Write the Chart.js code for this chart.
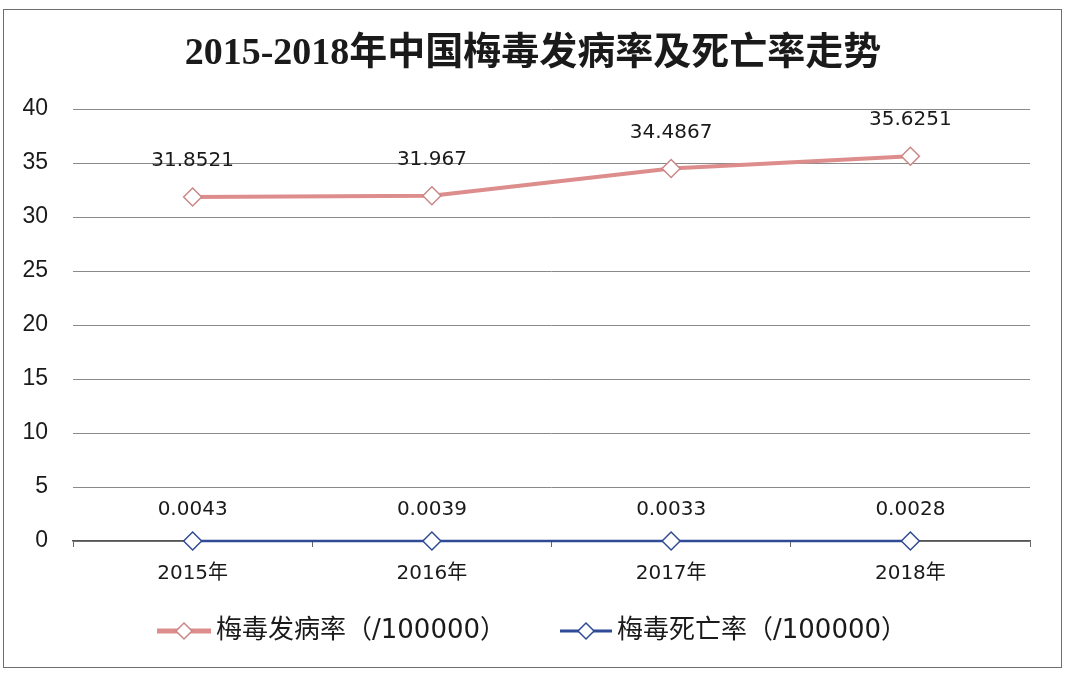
<!DOCTYPE html>
<html>
<head>
<meta charset="utf-8">
<script src="https://cdn.jsdelivr.net/npm/chart.js@4.4.1/dist/chart.umd.min.js"></script>
<style>
  html, body { margin: 0; padding: 0; background: #fff; }
  #wrap { position: relative; width: 1066px; height: 676px; }
  #frame {
    position: absolute; left: 3px; top: 9px; width: 1057px; height: 657px;
    border: 1.5px solid #6e6e6e; pointer-events: none;
  }
</style>
</head>
<body>
<div id="wrap">
  <canvas id="chart" width="1066" height="676"></canvas>
  <div id="frame"></div>
</div>
<script>
const YEARS = ["2015年", "2016年", "2017年", "2018年"];
const INCIDENCE = [31.8521, 31.967, 34.4867, 35.6251];
const MORTALITY = [0.0043, 0.0039, 0.0033, 0.0028];
const INCIDENCE_LABELS = ["31.8521", "31.967", "34.4867", "35.6251"];
const MORTALITY_LABELS = ["0.0043", "0.0039", "0.0033", "0.0028"];
const SERIES_NAMES = ["梅毒发病率（/100000）", "梅毒死亡率（/100000）"];
const TITLE = "2015-2018年中国梅毒发病率及死亡率走势";

const RED = "#dc8d8c";
const RED_EDGE = "#c98786";
const BLUE = "#2f4b95";
const WIDE = "'DejaVu Sans', 'Noto Sans CJK SC', sans-serif";
const ARIAL = "'Liberation Sans', 'Noto Sans CJK SC', sans-serif";

function diamond(ctx, x, y, r, stroke) {
  ctx.beginPath();
  ctx.moveTo(x, y - r);
  ctx.lineTo(x + r, y);
  ctx.lineTo(x, y + r);
  ctx.lineTo(x - r, y);
  ctx.closePath();
  ctx.fillStyle = "#fff";
  ctx.fill();
  ctx.lineWidth = 1.5;
  ctx.strokeStyle = stroke;
  ctx.stroke();
}

// title, value labels and the bottom legend
const decorations = {
  id: "decorations",
  afterDatasetsDraw(chart) {
    const ctx = chart.ctx;
    ctx.save();

    ctx.fillStyle = "#1a1a1a";
    ctx.font = "bold 38px 'Liberation Serif', 'Noto Sans CJK SC', serif";
    ctx.textAlign = "center";
    ctx.textBaseline = "middle";
    ctx.fillText(TITLE, 533, 54);

    ctx.font = "20px " + WIDE;
    const labelSets = [INCIDENCE_LABELS, MORTALITY_LABELS];
    chart.data.datasets.forEach((ds, i) => {
      chart.getDatasetMeta(i).data.forEach((pt, j) => {
        ctx.fillText(labelSets[i][j], pt.x, pt.y - (i === 0 ? 36 : 31));
      });
    });

    // legend
    ctx.textAlign = "left";
    ctx.font = "26px " + WIDE;
    const ly = 631;
    ctx.lineWidth = 5;
    ctx.strokeStyle = RED;
    ctx.beginPath(); ctx.moveTo(157, ly); ctx.lineTo(211, ly); ctx.stroke();
    diamond(ctx, 184, ly, 8, RED_EDGE);
    ctx.fillStyle = "#1a1a1a";
    ctx.fillText(SERIES_NAMES[0], 216, ly);

    ctx.lineWidth = 3;
    ctx.strokeStyle = BLUE;
    ctx.beginPath(); ctx.moveTo(560, ly); ctx.lineTo(612, ly); ctx.stroke();
    diamond(ctx, 586, ly, 8, BLUE);
    ctx.fillStyle = "#1a1a1a";
    ctx.fillText(SERIES_NAMES[1], 617, ly);

    ctx.restore();
  }
};

new Chart(document.getElementById("chart"), {
  type: "line",
  data: {
    labels: YEARS,
    datasets: [
      {
        label: SERIES_NAMES[0],
        data: INCIDENCE,
        borderColor: RED,
        borderWidth: 4,
        pointStyle: "rectRot",
        pointRadius: 9,
        pointBackgroundColor: "#fff",
        pointBorderColor: RED_EDGE,
        pointBorderWidth: 1.5,
        tension: 0,
        clip: false,
      },
      {
        label: SERIES_NAMES[1],
        data: MORTALITY,
        borderColor: BLUE,
        borderWidth: 2.5,
        pointStyle: "rectRot",
        pointRadius: 9,
        pointBackgroundColor: "#fff",
        pointBorderColor: BLUE,
        pointBorderWidth: 1.5,
        tension: 0,
        clip: false,
      },
    ],
  },
  options: {
    responsive: false,
    animation: false,
    layout: { padding: { top: 109, right: 36, bottom: 85, left: 0 } },
    plugins: {
      legend: { display: false },
      title: { display: false },
      tooltip: { enabled: false },
    },
    scales: {
      x: {
        offset: true,
        afterFit: (s) => { s.height = 50; },
        grid: { offset: true, drawOnChartArea: false, tickLength: 6, color: "#666", lineWidth: 1 },
        border: { display: true, color: "#555", width: 1.5 },
        ticks: { color: "#1a1a1a", font: { family: WIDE, size: 20 }, padding: 15 },
      },
      y: {
        min: 0,
        max: 40,
        afterFit: (s) => { s.width = 73; },
        grid: { drawTicks: false, color: "#8a8a8a", lineWidth: 1 },
        border: { display: false },
        ticks: { stepSize: 5, color: "#1a1a1a", font: { family: ARIAL, size: 23 }, padding: 25 },
      },
    },
  },
  plugins: [decorations],
});
</script>
</body>
</html>
